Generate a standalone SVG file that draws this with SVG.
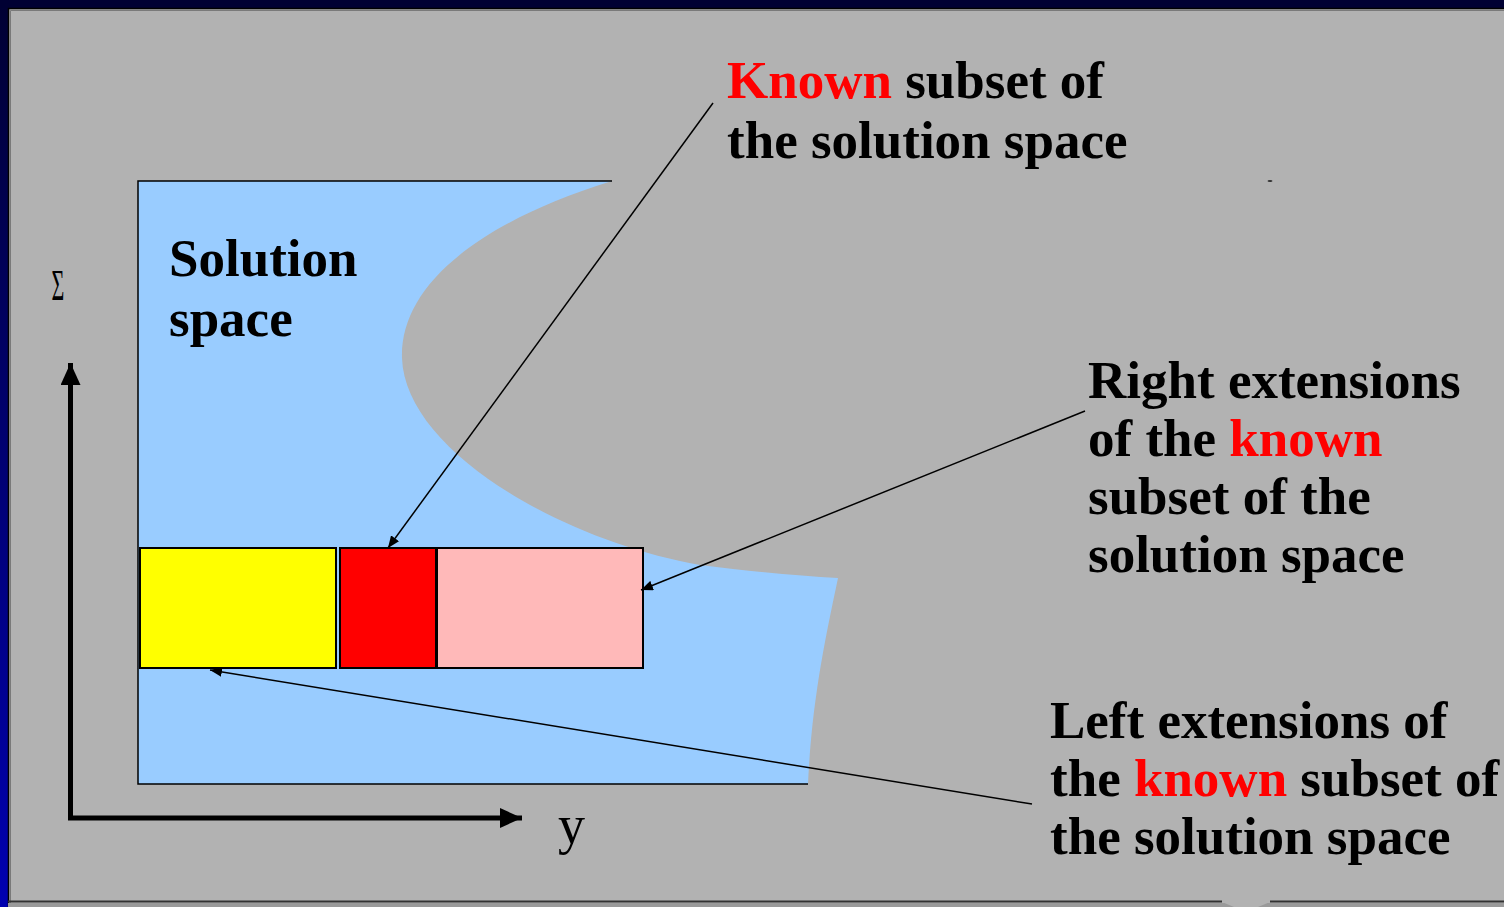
<svg xmlns="http://www.w3.org/2000/svg" width="1504" height="907" viewBox="0 0 1504 907">
  <defs>
    <linearGradient id="frame" x1="0" y1="0" x2="0" y2="1">
      <stop offset="0" stop-color="#000033"/>
      <stop offset="1" stop-color="#0000b0"/>
    </linearGradient>
    <marker id="ah" viewBox="0 0 12 10" refX="12" refY="5" markerWidth="12" markerHeight="10" markerUnits="userSpaceOnUse" orient="auto">
      <path d="M0,0 L12,5 L0,10 Z" fill="#000"/>
    </marker>
    <marker id="axh" viewBox="0 0 22 20" refX="22" refY="10" markerWidth="22" markerHeight="20" markerUnits="userSpaceOnUse" orient="auto">
      <path d="M0,0 L22,10 L0,20 Z" fill="#000"/>
    </marker>
  </defs>
  <style>
    .t { font-family: "Liberation Serif", "Times New Roman", serif; font-weight: bold; font-size: 53px; fill: #000; }
    .k { fill: #ff0000; }
    .conn { stroke: #000; stroke-width: 1.5; fill: none; marker-end: url(#ah); }
    .axis { stroke: #000; stroke-width: 5; fill: none; marker-end: url(#axh); }
    .box { stroke: #000; stroke-width: 2; }
  </style>

  <!-- background frame -->
  <rect x="0" y="0" width="1504" height="907" fill="url(#frame)"/>
  <rect x="0" y="0" width="1504" height="8" fill="#000033"/>
  <rect x="8" y="8" width="1496" height="899" fill="#b2b2b2"/>
  <path d="M8.5,907 L8.5,8.5 L1504,8.5" stroke="#000" stroke-width="1.5" fill="none"/>
  <path d="M10.5,907 L10.5,10.5 L1504,10.5" stroke="#7a7a7a" stroke-width="1" fill="none"/>
  <rect x="8" y="903" width="1496" height="4" fill="#9a9a9a"/>
  <path d="M8,901.5 L1222,901.5 M1270,901.5 L1504,901.5" stroke="#333" stroke-width="2" fill="none"/>
  <path d="M1222,902 L1270,902 L1258,907 L1234,907 Z" fill="#b2b2b2"/>
  <ellipse cx="1270" cy="181" rx="2.5" ry="1" fill="#333"/>

  <!-- solution space -->
  <g id="solution-space">
    <path d="M138,181 L612,181 C470,225 400,290 402,358 C405,450 560,540 700,565 Q780,575 838,578 C825,640 812,700 808,784 L138,784 Z" fill="#99ccff"/>
    <path d="M612,181 L138,181 L138,784 L808,784" stroke="#000" stroke-width="1.5" fill="none"/>
    <text class="t" x="169" y="276">Solution</text>
    <text class="t" x="169" y="336">space</text>
  </g>

  <!-- axes -->
  <g id="axes">
    <path class="axis" d="M68,818 L522,818"/>
    <path class="axis" d="M70.5,820 L70.5,363"/>
    <text x="0" y="0" font-family="Liberation Serif, serif" font-size="44" text-anchor="middle" fill="#000" transform="translate(58 300) scale(0.5 1)">Σ</text>
    <text x="558" y="843" font-family="Liberation Serif, serif" font-size="54" fill="#000">y</text>
  </g>

  <!-- subsets -->
  <g id="left-extension">
    <rect class="box" x="140" y="548" width="196" height="120" fill="#ffff00"/>
  </g>
  <g id="known-subset">
    <rect class="box" x="340" y="548" width="96" height="120" fill="#ff0000"/>
  </g>
  <g id="right-extension">
    <rect class="box" x="437" y="548" width="206" height="120" fill="#ffb9b9"/>
    <line x1="436.5" y1="548" x2="436.5" y2="668" stroke="#000" stroke-width="3"/>
  </g>

  <!-- labels -->
  <g id="label-known">
    <text class="t" x="727" y="98"><tspan class="k">Known</tspan> subset of</text>
    <text class="t" x="727" y="158">the solution space</text>
  </g>
  <g id="label-right">
    <text class="t" x="1088" y="398">Right extensions</text>
    <text class="t" x="1088" y="456">of the <tspan class="k">known</tspan></text>
    <text class="t" x="1088" y="514">subset of the</text>
    <text class="t" x="1088" y="572">solution space</text>
  </g>
  <g id="label-left">
    <text class="t" x="1050" y="738">Left extensions of</text>
    <text class="t" x="1050" y="796">the <tspan class="k">known</tspan> subset of</text>
    <text class="t" x="1050" y="854">the solution space</text>
  </g>

  <!-- connectors -->
  <g id="connectors">
    <line class="conn" x1="713" y1="103" x2="388" y2="548"/>
    <line class="conn" x1="1085" y1="411" x2="641" y2="590"/>
    <line class="conn" x1="1032" y1="804" x2="210" y2="670"/>
  </g>
</svg>
